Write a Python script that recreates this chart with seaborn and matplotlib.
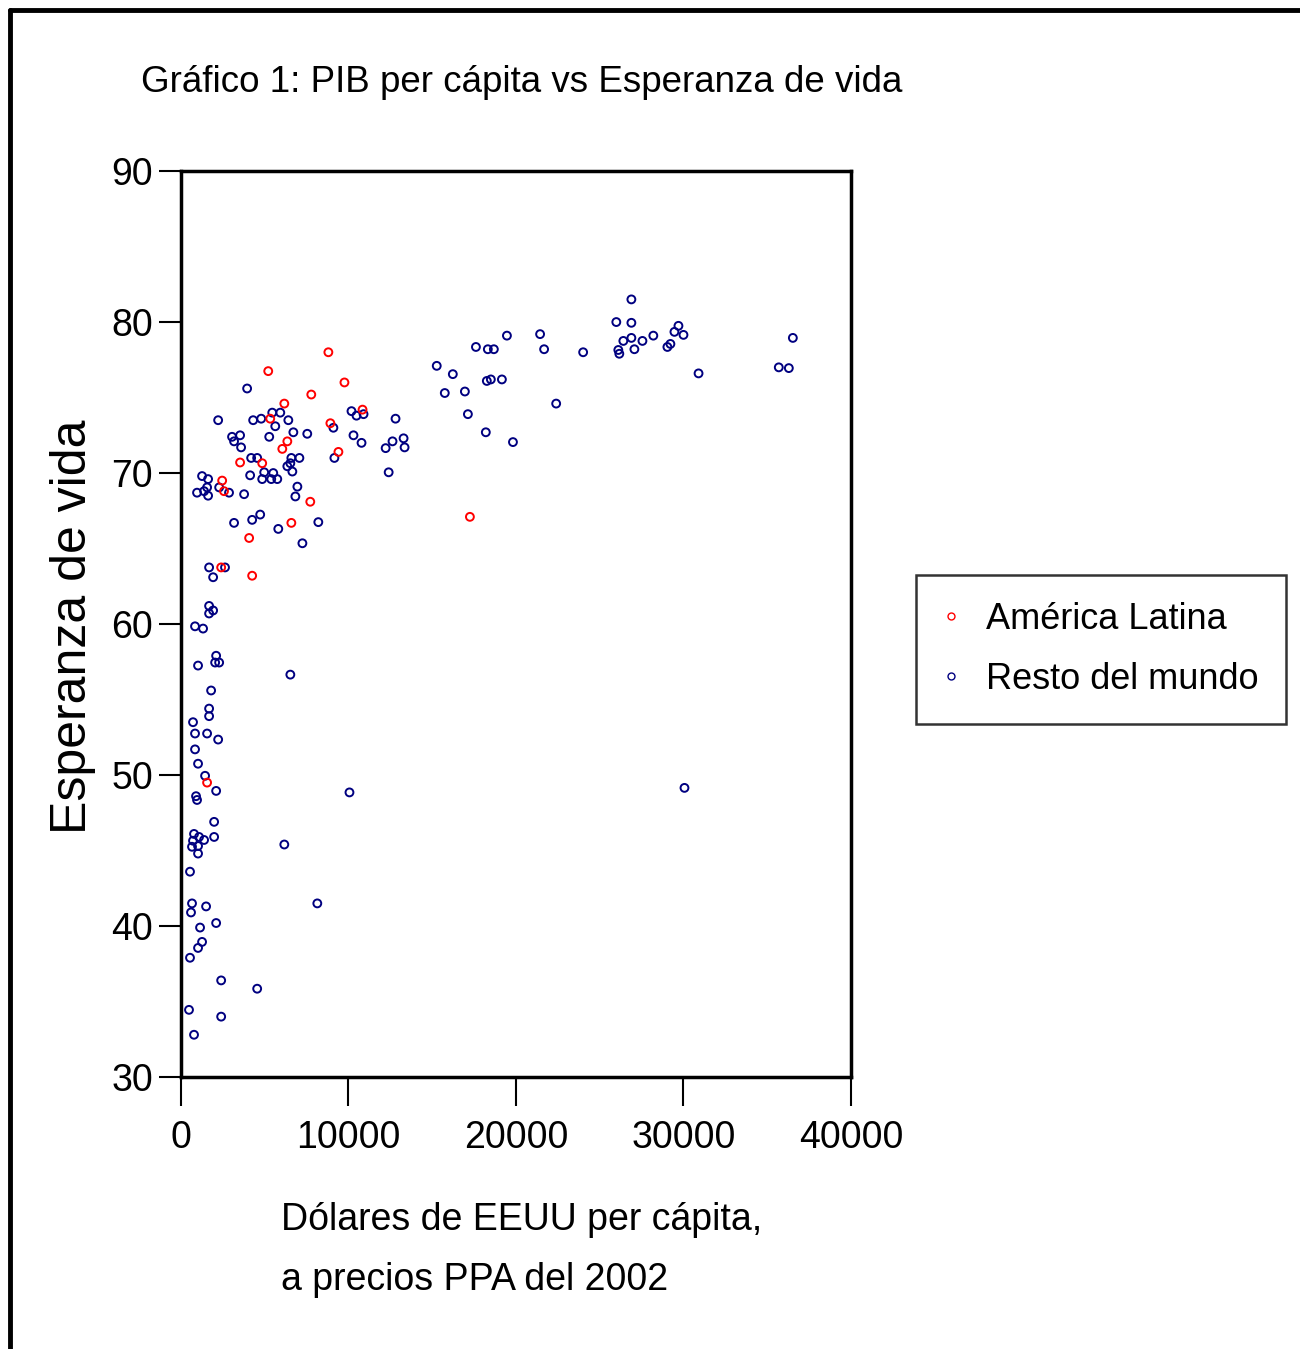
import numpy as np
import pandas as pd
import matplotlib
matplotlib.use("Agg")
import matplotlib.pyplot as plt
import seaborn as sns
from matplotlib.lines import Line2D

# Data
latam_gdp = [5210, 8800, 9760, 7780, 6170, 5330, 8920, 10840, 6350, 6050, 9400,
             3530, 4850, 2460, 2570, 7720, 6590, 4070, 2400, 4250, 17250, 1560]
latam_life = [76.75, 78.0, 76.0, 75.2, 74.6, 73.6, 73.3, 74.2, 72.1, 71.6, 71.4,
              70.7, 70.65, 69.5, 68.8, 68.1, 66.7, 65.7, 63.75, 63.2, 67.1, 49.5]

rest_gdp = [3950, 2220, 4310, 4790, 5450, 5930, 5630, 6410, 6710, 7540, 10180, 10480,
            10900, 9100, 10300, 10780, 3050, 3170, 3530, 3590, 5270, 4190, 4550, 6590,
            7070, 9160,
            4130, 4970, 4850, 5390, 5510, 5750, 6350, 6530, 6650, 6950, 6830, 1260,
            1620, 1560, 1380, 960, 1620, 2280, 2870, 3770, 3170, 4250, 4730, 5810,
            8200, 7250, 1680, 2630, 1920, 1680, 1920, 1680,
            840, 1320, 2100, 2040, 2280, 1020, 6530, 1800, 1680, 1680, 720, 840,
            1560, 2220, 840, 1020, 1440,
            2100, 900, 960, 10060, 1980, 780, 1080, 1980, 1380, 720, 660, 1020, 1020,
            6170, 540, 660, 600, 1500, 8140,
            1140, 2100, 1260, 1020, 540, 2400, 4550, 480, 2400, 780,
            15270, 16230, 17610, 18320, 18680, 19460, 21440, 21680, 24010, 15750,
            16950, 18260, 18500, 19160, 22400, 17130, 18200, 19820, 12810, 12220,
            12630, 13290, 13350, 12400,
            26890, 25990, 26890, 26110, 26170, 26410, 26890, 27070, 27550, 28200,
            29040, 29220, 29460, 29700, 30000, 30900, 35690, 36290, 36530, 30060]
rest_life = [75.6, 73.5, 73.5, 73.6, 74.0, 74.0, 73.1, 73.5, 72.7, 72.6, 74.1, 73.8,
             73.9, 73.0, 72.5, 72.0, 72.4, 72.1, 72.5, 71.7, 72.4, 71.0, 71.0, 71.0,
             71.0, 71.0,
             69.85, 70.05, 69.6, 69.6, 70.0, 69.6, 70.45, 70.65, 70.1, 69.1, 68.45, 69.8,
             69.6, 69.05, 68.8, 68.7, 68.5, 69.05, 68.7, 68.6, 66.7, 66.9, 67.25, 66.3,
             66.75, 65.35, 63.75, 63.75, 63.1, 61.2, 60.9, 60.7,
             59.85, 59.7, 57.9, 57.45, 57.45, 57.25, 56.65, 55.6, 54.4, 53.9, 53.5, 52.75,
             52.75, 52.35, 51.7, 50.75, 49.95,
             48.95, 48.6, 48.35, 48.85, 46.9, 46.1, 45.9, 45.9, 45.7, 45.65, 45.25, 45.3, 44.8,
             45.4, 43.6, 41.5, 40.9, 41.3, 41.5,
             39.9, 40.2, 38.95, 38.55, 37.9, 36.4, 35.85, 34.45, 34.0, 32.8,
             77.1, 76.55, 78.35, 78.2, 78.2, 79.1, 79.2, 78.2, 78.0, 75.3,
             75.4, 76.1, 76.2, 76.2, 74.6, 73.9, 72.7, 72.05, 73.6, 71.65,
             72.1, 72.3, 71.7, 70.05,
             81.5, 80.0, 79.95, 78.15, 77.9, 78.75, 78.95, 78.2, 78.75, 79.1,
             78.35, 78.55, 79.35, 79.75, 79.15, 76.6, 77.0, 76.95, 78.95, 49.15]

groups = ["Resto del mundo", "América Latina"]
colors = {"América Latina": "#ff0000", "Resto del mundo": "#000080"}
x_ticks = [0, 10000, 20000, 30000, 40000]
y_ticks = [30, 40, 50, 60, 70, 80, 90]

df = pd.concat([
    pd.DataFrame({"gdp": rest_gdp, "life": rest_life, "grupo": groups[0]}),
    pd.DataFrame({"gdp": latam_gdp, "life": latam_life, "grupo": groups[1]}),
], ignore_index=True)

sns.set_style("white")
plt.rcParams["font.family"] = ["Liberation Sans Narrow", "Liberation Sans", "DejaVu Sans"]
plt.rcParams["text.color"] = "black"
plt.rcParams["xtick.color"] = "black"
plt.rcParams["ytick.color"] = "black"

fig = plt.figure(figsize=(13, 13.49), dpi=100)
ax = fig.add_axes([0.1392, 0.2016, 0.5154, 0.6716])

sns.scatterplot(data=df, x="gdp", y="life", hue="grupo", palette=colors,
                s=32, linewidth=1.4, legend=False, ax=ax)
# open circles: move the hue colours to the edges
coll = ax.collections[0]
fc = coll.get_facecolors()
coll.set_edgecolors(fc)
coll.set_facecolors("none")

ax.set_xlim(0, 40000)
ax.set_ylim(30, 90)
ax.set_xticks(x_ticks)
ax.set_yticks(y_ticks)
ax.set_xlabel("")
ax.set_ylabel("")
for sp in ax.spines.values():
    sp.set_visible(True)
    sp.set_linewidth(2.5)
    sp.set_color("black")
ax.tick_params(axis="x", direction="out", length=21, width=1.5, pad=10,
               labelsize=27, bottom=True)
ax.tick_params(axis="y", direction="out", length=16, width=1.5, pad=4,
               labelsize=27, left=True)

fig.text(0.1085, 0.9392, "Gráfico 1: PIB per cápita vs Esperanza de vida",
         fontsize=26.5, ha="left", va="center")
fig.text(0.056, 0.5352, "Esperanza de vida", rotation=90, fontsize=36,
         family=["Liberation Sans", "DejaVu Sans"], ha="center", va="center")
fig.text(0.2162, 0.0956, "Dólares de EEUU per cápita,", fontsize=27,
         ha="left", va="center")
fig.text(0.2162, 0.0511, "a precios PPA del 2002", fontsize=27,
         ha="left", va="center")

handles = [Line2D([], [], ls="none", marker="o", ms=5, mfc="none", mew=1.0,
                  mec=colors[g]) for g in ["América Latina", "Resto del mundo"]]
leg = fig.legend(handles, ["América Latina", "Resto del mundo"],
                 loc="upper left", bbox_to_anchor=(0.7046, 0.5738),
                 fontsize=26, frameon=True, fancybox=False, borderpad=0.75,
                 handletextpad=0.75, labelspacing=0.69, handlelength=0.44,
                 borderaxespad=0)
leg.get_frame().set_edgecolor("black")
leg.get_frame().set_linewidth(1.8)

# outer frame (only top and left edges visible in the reference)
fig.add_artist(Line2D([0.0077, 1.0], [0.9926, 0.9926], color="black", lw=3.5,
                      transform=fig.transFigure))
fig.add_artist(Line2D([0.0077, 0.0077], [0.0, 0.9926], color="black", lw=3.5,
                      transform=fig.transFigure))

fig.savefig("out.png", dpi=100, facecolor="white")
